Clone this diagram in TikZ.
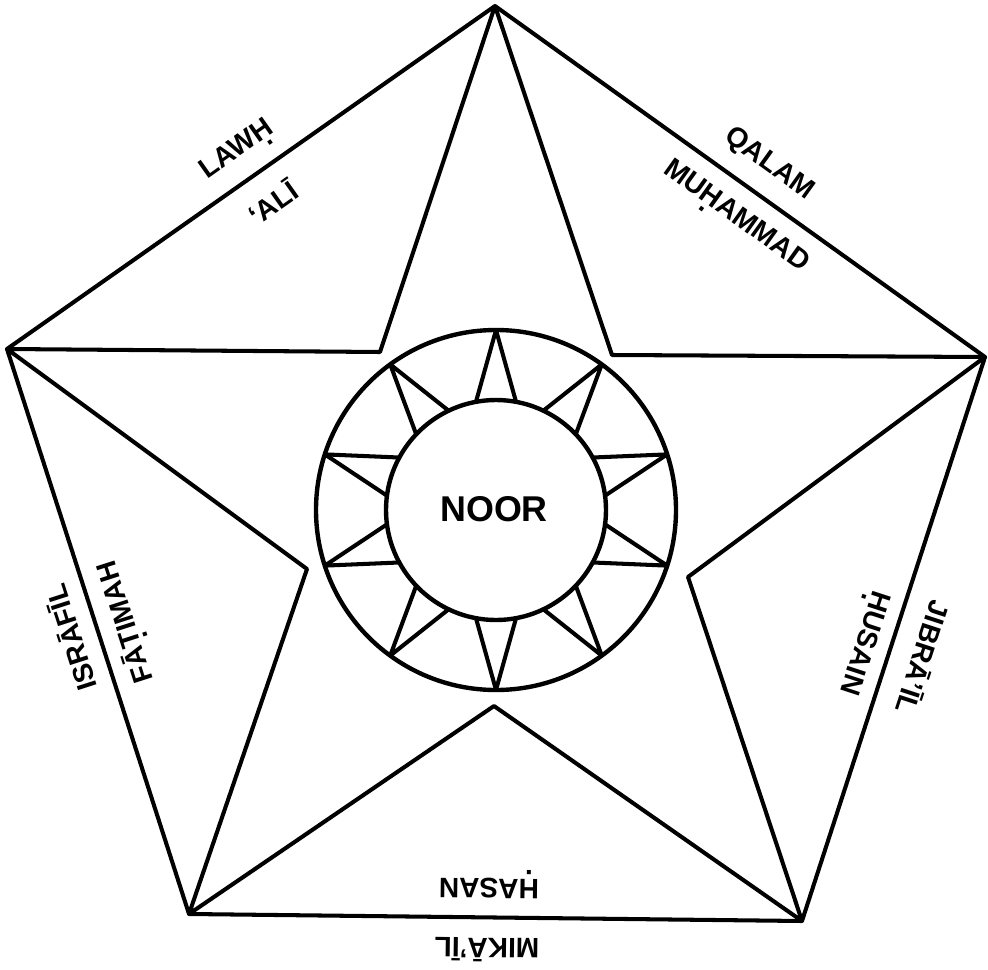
\documentclass[tikz,border=0pt]{standalone}
\usepackage{fontspec}
\setmainfont{Liberation Sans}
\usetikzlibrary{calc}
\newcommand{\udot}[1]{\ooalign{#1\cr\hidewidth\raisebox{-0.32em}{.}\hidewidth\cr}}
\begin{document}
\begin{tikzpicture}[x=0.02cm,y=-0.02cm, line width=2.3pt, line join=round, line cap=round,
  lbl/.style={font=\fontsize{16}{19}\selectfont\bfseries, inner sep=0pt},
  big/.style={font=\fontsize{20.4}{24}\selectfont\bfseries, inner sep=0pt},
  ring/.style={line width=2.5pt}]
\useasboundingbox (0,0) rectangle (988,970);
% outer pentagon vertices
\coordinate (T) at (495,6);
\coordinate (R) at (985,357);
\coordinate (BR) at (802,921);
\coordinate (BL) at (189,914);
\coordinate (L) at (7,349);
% inner star vertices
\coordinate (IUL) at (380,352);
\coordinate (IUR) at (612,355);
\coordinate (ILR) at (688,577);
\coordinate (IB) at (494,706);
\coordinate (ILL) at (307,569);
% pentagon and star
\draw (T) -- (R) -- (BR) -- (BL) -- (L) -- cycle;
\draw (T) -- (IUL) -- (L) -- (ILL) -- (BL) -- (IB) -- (BR) -- (ILR) -- (R) -- (IUR) -- cycle;
% circles
\coordinate (C) at (496,510);
\draw[ring] (C) circle[radius=180];
\draw[ring] (C) circle[radius=110];
% ten-pointed star ring
\foreach \k in {0,...,9}{
  \pgfmathsetmacro{\a}{90+36*\k}
  \coordinate (tip\k) at ($(C)+(\a:180)$);
  \coordinate (ba\k) at ($(C)+(\a+10.5:110)$);
  \coordinate (bb\k) at ($(C)+(\a-10.5:110)$);
  \draw (ba\k) -- (tip\k) -- (bb\k);
}
% labels
\node[big] (noor) at (494,509) {NOOR};
\node[lbl, rotate=35.2] (lawh) at (238,151) {LAW\udot{H}};
\node[lbl, rotate=35.2] (ali) at (272,202) {‘ALĪ};
\node[lbl, rotate=-35.7] (qalam) at (769,164) {QALAM};
\node[lbl, rotate=-35.7] (muhammad) at (735,218) {MU\udot{H}AMMAD};
\node[lbl, rotate=107.85] (israfil) at (70,638) {ISRĀFĪL};
\node[lbl, rotate=107.85] (fatimah) at (127,622) {FĀ\udot{T}IMAH};
\node[lbl, rotate=-108] (husain) at (862,642) {\udot{H}USAIN};
\node[lbl, rotate=-108] (jibrail) at (924,658) {JIBRĀ’ĪL};
\node[lbl, rotate=179.35] (hasan) at (489,884) {\udot{H}ASAN};
\node[lbl, rotate=179.35] (mikail) at (487,950) {MIKĀ’ĪL};
\end{tikzpicture}
\end{document}
